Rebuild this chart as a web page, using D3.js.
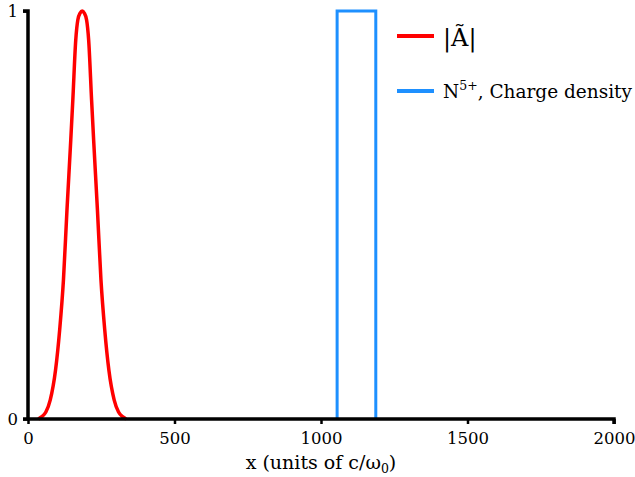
<!DOCTYPE html>
<html><head><meta charset="utf-8">
<script src="https://cdn.jsdelivr.net/npm/d3@7"></script>
<style>body{margin:0;background:#fff}svg{display:block}svg text{font-family:"DejaVu Serif",serif !important;fill:#000}</style>
</head><body><svg id="c" width="635" height="477"></svg>
<script>
// Data
const xTicks = [0, 500, 1000, 1500, 2000];
const yTicks = [0, 1];
const pulseX = [35, 46, 61, 76, 94, 108, 121, 133, 146, 153, 163, 170, 178, 185, 192, 200, 207, 217, 224, 237, 249, 262, 276, 294, 309, 324, 335];
const pulseY = [0, 0.005, 0.017, 0.047, 0.12, 0.218, 0.341, 0.512, 0.684, 0.782, 0.929, 0.978, 0.995, 1, 0.995, 0.978, 0.929, 0.782, 0.684, 0.512, 0.341, 0.218, 0.12, 0.047, 0.017, 0.005, 0];
const densX = [1055, 1055, 1187, 1187];
const densY = [0, 1, 1, 0];
const legendLabels = ["|Ã|", "N", "5+", ", Charge density"];
const colors = ["#ff0000", "#1e90ff"];

const svg = d3.select("#c");
const x = d3.scaleLinear().domain([0, 2000]).range([28, 614]);
const y = d3.scaleLinear().domain([0, 1]).range([419, 11]);

svg.append("path").datum(pulseX.map((v, i) => [v, pulseY[i]]))
  .attr("d", d3.line().x(d => x(d[0])).y(d => y(d[1])).curve(d3.curveMonotoneX)).attr("fill", "none")
  .attr("stroke", colors[0]).attr("stroke-width", 3.5);
svg.append("path").datum(densX.map((v, i) => [v, densY[i]]))
  .attr("d", d3.line().x(d => x(d[0])).y(d => y(d[1]))).attr("fill", "none")
  .attr("stroke", colors[1]).attr("stroke-width", 3).attr("stroke-linejoin", "miter");

// axes
const xa = svg.append("g").attr("transform", "translate(0,419)")
  .call(d3.axisBottom(x).tickValues(xTicks).tickSize(5).tickPadding(8).tickFormat(d3.format("d")));
const ya = svg.append("g").attr("transform", "translate(28,0)")
  .call(d3.axisLeft(y).tickValues(yTicks).tickSize(5).tickPadding(5).tickFormat(d3.format("d")));
[xa, ya].forEach(g => {
  g.attr("font-family", null);
  g.select(".domain").attr("stroke", "#000").attr("stroke-width", 3.5);
  g.selectAll(".tick line").attr("stroke", "#000").attr("stroke-width", 2.5);
  g.selectAll(".tick text").style("font-size", "16.5px").attr("fill", "#000");
});
xa.select(".domain").attr("d", "M" + (x(0) - 5) + ",0H" + x(2000) + "V5");
ya.select(".domain").attr("d", "M-5," + y(1) + "H0V" + y(0));

svg.append("text").attr("x", (x(0) + x(2000)) / 2).attr("y", 469).attr("text-anchor", "middle")
  .style("font-size", "19px").html("x (units of c/ω<tspan font-size='12.5px' dy='4'>0</tspan><tspan dy='-4'>)</tspan>");

// legend
const lg = svg.append("g");
lg.append("line").attr("x1", 397).attr("x2", 434).attr("y1", 36).attr("y2", 36).attr("stroke", colors[0]).attr("stroke-width", 4);
lg.append("line").attr("x1", 397).attr("x2", 434).attr("y1", 91).attr("y2", 91).attr("stroke", colors[1]).attr("stroke-width", 4);
lg.append("text").attr("x", 443).attr("y", 46).style("font-size", "24px").text(legendLabels[0]);
const t2 = lg.append("text").attr("x", 443).attr("y", 98).style("font-size", "18.5px");
t2.append("tspan").text(legendLabels[1]);
t2.append("tspan").attr("font-size", "12.5px").attr("dy", -8).text(legendLabels[2]);
t2.append("tspan").attr("dy", 8).text(legendLabels[3]);
</script></body></html>
